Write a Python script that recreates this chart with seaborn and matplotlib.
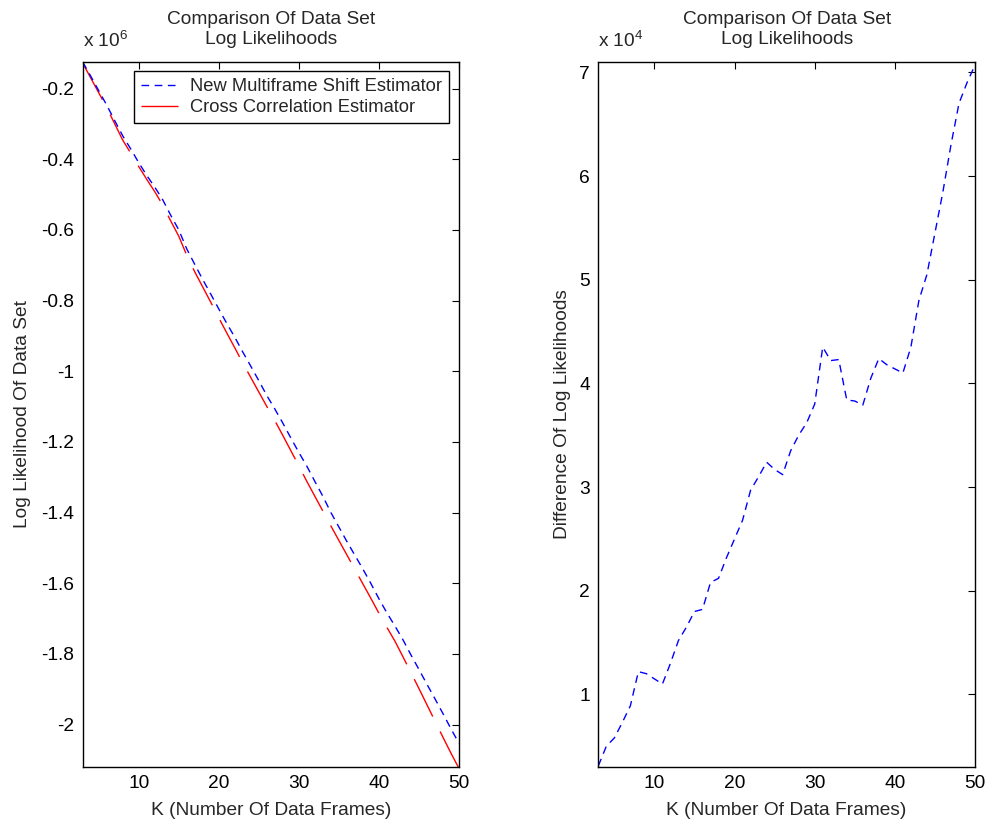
import numpy as np
import pandas as pd
import matplotlib
matplotlib.use("Agg")
import matplotlib.pyplot as plt
import seaborn as sns

# ---- data ----
K = list(range(3, 51))
# Log likelihoods (x 1e6)
multiframe_ll = [-0.125, -0.165, -0.206, -0.247, -0.291, -0.334, -0.371, -0.410,
                 -0.446, -0.479, -0.515, -0.559, -0.600, -0.654, -0.698, -0.741,
                 -0.782, -0.824, -0.865, -0.904, -0.946, -0.986, -1.027, -1.069,
                 -1.107, -1.147, -1.189, -1.230, -1.269, -1.312, -1.354, -1.400,
                 -1.441, -1.482, -1.521, -1.560, -1.601, -1.644, -1.684, -1.721,
                 -1.760, -1.803, -1.844, -1.886, -1.927, -1.969, -2.012, -2.053]
crosscorr_ll = [-0.128, -0.170, -0.212, -0.254, -0.300, -0.346, -0.383, -0.421,
                -0.457, -0.492, -0.530, -0.575, -0.618, -0.672, -0.719, -0.762,
                -0.805, -0.849, -0.892, -0.934, -0.977, -1.018, -1.059, -1.100,
                -1.140, -1.182, -1.225, -1.268, -1.312, -1.354, -1.396, -1.438,
                -1.479, -1.520, -1.561, -1.602, -1.643, -1.685, -1.725, -1.764,
                -1.808, -1.853, -1.898, -1.944, -1.990, -2.036, -2.081, -2.124]
# Difference of log likelihoods (x 1e4)
ll_difference = [0.31, 0.50, 0.58, 0.73, 0.89, 1.22, 1.20, 1.15, 1.10, 1.30,
                 1.52, 1.65, 1.80, 1.82, 2.08, 2.12, 2.32, 2.50, 2.68, 2.97,
                 3.10, 3.24, 3.17, 3.12, 3.35, 3.50, 3.62, 3.80, 4.35, 4.22,
                 4.23, 3.84, 3.83, 3.79, 4.05, 4.24, 4.18, 4.14, 4.10, 4.35,
                 4.80, 5.05, 5.45, 5.85, 6.30, 6.70, 6.90, 7.07]

left_yticks = [-2.0, -1.8, -1.6, -1.4, -1.2, -1.0, -0.8, -0.6, -0.4, -0.2]
left_yticklabels = ["-2", "-1.8", "-1.6", "-1.4", "-1.2", "-1", "-0.8", "-0.6", "-0.4", "-0.2"]
right_yticks = [1, 2, 3, 4, 5, 6, 7]
xticks = [10, 20, 30, 40, 50]

title_text = "Comparison Of Data Set\nLog Likelihoods"
xlabel_text = "K (Number Of Data Frames)"

# ---- style ----
sns.set_style("white")
plt.rcParams["font.family"] = ["Liberation Sans", "DejaVu Sans"]
plt.rcParams["mathtext.fontset"] = "custom"
plt.rcParams["mathtext.rm"] = "Liberation Sans"
plt.rcParams["mathtext.it"] = "Liberation Sans"
FS = 13.8

fig = plt.figure(figsize=(9.89, 8.24), dpi=100)
W, H = 989, 824
def rect(x0, y0, x1, y1):
    return [x0 / W, 1 - y1 / H, (x1 - x0) / W, (y1 - y0) / H]

ax1 = fig.add_axes(rect(82.7, 62, 459, 767))
ax2 = fig.add_axes(rect(598.3, 62, 975, 767))

df_left = pd.DataFrame({"K": K, "multi": multiframe_ll, "cross": crosscorr_ll})
df_right = pd.DataFrame({"K": K, "diff": ll_difference})

sns.lineplot(data=df_left, x="K", y="cross", ax=ax1, color="#ff0000", lw=1.0,
             label="Cross Correlation Estimator")
sns.lineplot(data=df_left, x="K", y="multi", ax=ax1, color="#0000ff", lw=1.0,
             label="New Multiframe Shift Estimator")
l_red, l_blue = ax1.get_lines()[0], ax1.get_lines()[1]
l_red.set_dashes((30, 12))
l_blue.set_dashes((5.5, 4))

sns.lineplot(data=df_right, x="K", y="diff", ax=ax2, color="#0000ff", lw=1.0)
ax2.get_lines()[0].set_dashes((5.5, 4))

for ax in (ax1, ax2):
    ax.set_xlim(3, 50)
    ax.set_xticks(xticks)
    ax.set_xticklabels([str(t) for t in xticks])
    ax.tick_params(axis="both", which="both", direction="in", length=5, width=0.8,
                   top=True, right=True, labelsize=FS, pad=6, colors="black")
    for s in ax.spines.values():
        s.set_color("black")
        s.set_linewidth(1.0)
        s.set_visible(True)
    ax.set_xlabel(xlabel_text, fontsize=FS, labelpad=7)
    ax.set_title(title_text, fontsize=FS, pad=13, linespacing=1.25)

ax1.set_ylim(-2.12, -0.125)
ax1.set_yticks(left_yticks)
ax1.set_yticklabels(left_yticklabels)
ax1.set_ylabel("Log Likelihood Of Data Set", fontsize=FS)
ax1.yaxis.set_label_coords(-0.137, 0.5)
ax1.text(0.0, 1.016, r"x 10$^{6}$", transform=ax1.transAxes, ha="left", va="bottom", fontsize=FS)

ax2.set_ylim(0.3, 7.1)
ax2.set_yticks(right_yticks)
ax2.set_yticklabels([str(t) for t in right_yticks])
ax2.set_ylabel("Difference Of Log Likelihoods", fontsize=FS)
ax2.yaxis.set_label_coords(-0.073, 0.5)
ax2.text(0.0, 1.016, r"x 10$^{4}$", transform=ax2.transAxes, ha="left", va="bottom", fontsize=FS)

# legend with multiframe first
handles, labels = ax1.get_legend_handles_labels()
order = [1, 0]
leg = ax1.legend([handles[i] for i in order], [labels[i] for i in order],
                 loc="upper right", bbox_to_anchor=(0.974, 0.987), fontsize=13.2,
                 frameon=True, fancybox=False, edgecolor="black", framealpha=1,
                 handlelength=2.0, borderpad=0.4, labelspacing=0.2, handletextpad=0.65,
                 borderaxespad=0)
leg.get_frame().set_linewidth(1.0)

fig.savefig("out.png", dpi=100, facecolor="white")
